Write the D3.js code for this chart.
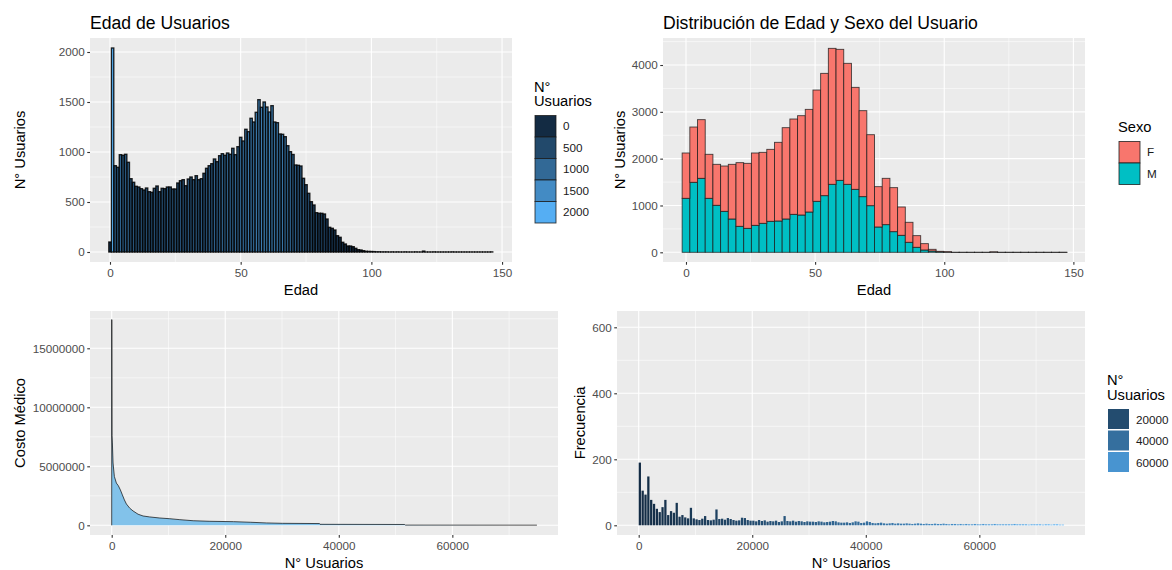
<!DOCTYPE html>
<html>
<head>
<meta charset="utf-8">
<script src="https://cdn.jsdelivr.net/npm/d3@7"></script>
<style>
  body { margin: 0; background: #fff; }
  svg { display: block; }
  text { font-family: "Liberation Sans", Arial, sans-serif; }
</style>
</head>
<body>
<svg id="chart" width="1172" height="570"></svg>
<script>
// ---- data ----

// panel 1: users per age (0..146)
const edades = d3.range(0, 147);
const usuariosPorEdad = [
  100, 2040, 863, 847, 973, 967, 977, 897, 733, 697,
  657, 650, 633, 620, 640, 603, 597, 637, 660, 603,
  637, 633, 650, 650, 630, 630, 690, 713, 723, 663,
  730, 750, 723, 763, 723, 733, 787, 837, 863, 883,
  930, 903, 963, 983, 967, 990, 977, 1037, 973, 1053,
  1147, 1110, 1227, 1203, 1337, 1300, 1397, 1523, 1447, 1500,
  1450, 1400, 1463, 1300, 1293, 1180, 1177, 1153, 1063, 1003,
  975, 870, 867, 860, 737, 673, 587, 503, 470, 393,
  387, 387, 380, 330, 247, 237, 220, 163, 147, 97,
  80, 60, 60, 53, 37, 23, 20, 13, 7, 6,
  5, 4, 2, 2, 1, 1, 1, 0, 1, 0,
  1, 0, 0, 1, 0, 0, 0, 1, 0, 0,
  9, 0, 0, 0, 1, 0, 0, 0, 0, 0,
  0, 1, 0, 0, 0, 0, 0, 0, 0, 0,
  0, 0, 0, 0, 0, 0, 1
];
const legendaEdad = [0, 500, 1000, 1500, 2000];

// panel 2: histogram (50 bins) split by sex
const binAncho = 146 / 49;
const sexos = ["F", "M"];
const histM = [
  1153, 1495, 1580, 1153, 1004, 875, 712, 555, 512, 576,
  619, 662, 669, 712, 811, 797, 861, 1089, 1210, 1452,
  1537, 1452, 1345, 1189, 996, 541, 591, 441, 363, 214,
  107, 50, 28, 7, 4, 0, 0, 0, 0, 0,
  4, 0, 0, 0, 0, 0, 0, 0, 0, 0
];
const histF = [
  968, 1181, 1253, 940, 875, 968, 1167, 1360, 1388, 1545,
  1516, 1537, 1680, 1950, 2036, 2121, 2192, 2377, 2612, 2904,
  2798, 2584, 2178, 1836, 1516, 861, 989, 940, 605, 427,
  249, 135, 36, 14, 10, 0, 0, 0, 0, 0,
  6, 0, 0, 0, 0, 0, 0, 0, 0, 1
];

// panel 3: medical cost, users sorted by cost
const costoUsuarios = [0, 30, 60, 120, 240, 470, 824, 1176, 1530, 1880, 2240, 2590, 3180, 3760, 4650,
  5530, 6700, 8470, 10230, 12000, 14350, 17290, 21450, 24400, 27300, 30100, 36600, 36700, 51600, 51700, 74900];
const costoValores = [17430000, 17430000, 7600000, 6980000, 5280000, 4140000, 3580000, 3350000, 3000000,
  2580000, 2150000, 1810000, 1450000, 1220000, 940000, 790000, 710000, 620000, 560000, 480000, 390000,
  340000, 310000, 260000, 200000, 170000, 150000, 85000, 70000, 20000, 15000];

// panel 4: frequency per block of 500 users
const frecPaso = 500;
const frecuencias = [
  190, 105, 93, 148, 77, 65, 50, 40, 55, 77,
  31, 43, 38, 68, 26, 31, 24, 21, 53, 21,
  18, 16, 20, 28, 16, 15, 17, 48, 19, 20,
  17, 22, 19, 16, 14, 15, 23, 22, 16, 14,
  14, 12, 16, 13, 15, 11, 13, 12, 14, 10,
  12, 28, 13, 12, 14, 11, 13, 12, 10, 12,
  11, 11, 10, 12, 11, 9, 10, 11, 13, 12,
  9, 8, 8, 9, 7, 9, 12, 11, 7, 8,
  12, 10, 7, 6, 7, 8, 6, 5, 6, 7,
  5, 6, 5, 5, 6, 5, 4, 5, 6, 5,
  4, 5, 4, 4, 5, 4, 4, 5, 4, 3,
  4, 4, 3, 4, 3, 4, 3, 3, 4, 3,
  3, 4, 3, 3, 3, 4, 3, 3, 3, 3,
  3, 3, 4, 3, 3, 3, 3, 2, 3, 3,
  3, 3, 2, 3, 3, 2, 3, 3, 2, 2
];
const legendaUsuarios = [20000, 40000, 60000];

// ---- style ----
const svg = d3.select("#chart");
const gradiente = d3.interpolateLab("#132B43", "#56B1F7");
const colSexo = { F: "#F8766D", M: "#00BFC4" };
const fTitulo = 17.6, fEje = 14.7, fTick = 11.7;

// draws grey panel, grid, ticks and labels
function panel(p) {
  const g = svg.append("g");
  const [x0, x1] = p.x.range(), [y0, y1] = p.y.range();
  g.append("rect")
    .attr("x", x0).attr("y", y1)
    .attr("width", x1 - x0).attr("height", y0 - y1)
    .attr("fill", "#EBEBEB");

  // minor grid
  g.selectAll(".mx").data(p.xMinor).enter().append("line")
    .attr("x1", d => p.x(d)).attr("x2", d => p.x(d)).attr("y1", y0).attr("y2", y1)
    .attr("stroke", "#fff").attr("stroke-width", 0.55);
  g.selectAll(".my").data(p.yMinor).enter().append("line")
    .attr("y1", d => p.y(d)).attr("y2", d => p.y(d)).attr("x1", x0).attr("x2", x1)
    .attr("stroke", "#fff").attr("stroke-width", 0.55);
  // major grid
  g.selectAll(".gx").data(p.xTicks).enter().append("line")
    .attr("x1", d => p.x(d)).attr("x2", d => p.x(d)).attr("y1", y0).attr("y2", y1)
    .attr("stroke", "#fff").attr("stroke-width", 1.1);
  g.selectAll(".gy").data(p.yTicks).enter().append("line")
    .attr("y1", d => p.y(d)).attr("y2", d => p.y(d)).attr("x1", x0).attr("x2", x1)
    .attr("stroke", "#fff").attr("stroke-width", 1.1);

  // axes with d3 axis generators, styled like ggplot
  const ax = g.append("g").attr("transform", `translate(0,${y0})`)
    .call(d3.axisBottom(p.x).tickValues(p.xTicks).tickSize(2.75).tickPadding(3.5).tickFormat(d3.format("d")));
  const ay = g.append("g").attr("transform", `translate(${x0},0)`)
    .call(d3.axisLeft(p.y).tickValues(p.yTicks).tickSize(2.75).tickPadding(2.5).tickFormat(d3.format("d")));
  [ax, ay].forEach(a => {
    a.select(".domain").remove();
    a.selectAll("line").attr("stroke", "#333333").attr("stroke-width", 1.1);
    a.selectAll("text").attr("fill", "#4D4D4D").attr("font-size", fTick).attr("font-family", null);
  });

  if (p.titulo) {
    svg.append("text").attr("x", x0).attr("y", p.tituloY)
      .attr("font-size", fTitulo).attr("fill", "#000").text(p.titulo);
  }
  svg.append("text").attr("x", (x0 + x1) / 2).attr("y", y0 + 33)
    .attr("text-anchor", "middle").attr("font-size", fEje).text(p.xLab);
  svg.append("text")
    .attr("transform", `translate(${p.yLabX},${(y0 + y1) / 2}) rotate(-90)`)
    .attr("text-anchor", "middle").attr("font-size", fEje).text(p.yLab);
}

// legend with square keys
function leyenda(lx, ly, titulo, items, stroke) {
  const g = svg.append("g");
  titulo.forEach((t, i) => g.append("text").attr("x", lx).attr("y", ly + i * 14.5)
    .attr("font-size", fEje).text(t));
  const top = ly + (titulo.length - 1) * 14.5 + 9.5;
  const k = 21.5;
  items.forEach((it, i) => {
    g.append("rect").attr("x", lx + 1).attr("y", top + i * k)
      .attr("width", 21).attr("height", stroke ? k : k - 1.5)
      .attr("fill", it.color)
      .attr("stroke", stroke ? "#1a1a1a" : "none").attr("stroke-opacity", 0.85).attr("stroke-width", 0.9);
    g.append("text").attr("x", lx + 29).attr("y", top + i * k + k / 2 + 4)
      .attr("font-size", fTick).attr("fill", "#1a1a1a").text(it.label);
  });
}

// zero-height rects are not painted, keep a hairline so the outline shows
const alto = (y, v) => Math.max(0.01, y(0) - y(v));

// ---- panel 1: Edad de Usuarios ----
const x1 = d3.scaleLinear().domain([-7.65, 153.8]).range([90, 512]);
const y1 = d3.scaleLinear().domain([-100, 2140]).range([262, 38]);
panel({ x: x1, y: y1, xTicks: [0, 50, 100, 150], xMinor: [25, 75, 125],
  yTicks: [0, 500, 1000, 1500, 2000], yMinor: [250, 750, 1250, 1750],
  titulo: "Edad de Usuarios", tituloY: 29, xLab: "Edad", yLab: "N° Usuarios", yLabX: 25 });
const col1 = d3.scaleSequential(gradiente).domain([0, d3.max(usuariosPorEdad)]);
const bw1 = x1(0.9) - x1(0);
svg.append("g").selectAll("rect").data(edades).enter().append("rect")
  .attr("x", d => x1(d) - bw1 / 2).attr("width", bw1)
  .attr("y", d => y1(0) - alto(y1, usuariosPorEdad[d]))
  .attr("height", d => alto(y1, usuariosPorEdad[d]))
  .attr("fill", d => col1(usuariosPorEdad[d]))
  .attr("stroke", "#000").attr("stroke-opacity", 0.85).attr("stroke-width", 1.35);
leyenda(534, 91.5, ["N°", "Usuarios"], legendaEdad.map(v => ({ label: v, color: col1(v) })), true);

// ---- panel 2: Distribución de Edad y Sexo ----
const x2 = d3.scaleLinear().domain([-8.9, 154.5]).range([663, 1085]);
const y2 = d3.scaleLinear().domain([-207, 4577]).range([262, 38]);
panel({ x: x2, y: y2, xTicks: [0, 50, 100, 150], xMinor: [25, 75, 125],
  yTicks: [0, 1000, 2000, 3000, 4000], yMinor: [500, 1500, 2500, 3500, 4500],
  titulo: "Distribución de Edad y Sexo del Usuario", tituloY: 28.5, xLab: "Edad", yLab: "N° Usuarios", yLabX: 625 });
const tabla = histM.map((m, i) => ({ centro: i * binAncho, M: m, F: histF[i] }));
const pila = d3.stack().keys(["M", "F"])(tabla);
svg.append("g").selectAll("g").data(pila).enter().append("g")
  .attr("fill", s => colSexo[s.key])
  .selectAll("rect").data(s => s).enter().append("rect")
  .attr("x", d => x2(d.data.centro - binAncho / 2))
  .attr("width", x2(binAncho) - x2(0))
  .attr("y", d => y2(d[1]))
  .attr("height", d => Math.max(0.01, y2(d[0]) - y2(d[1])))
  .attr("stroke", "#1a1a1a").attr("stroke-opacity", 0.8).attr("stroke-width", 0.9);
leyenda(1118, 132, ["Sexo"], sexos.map(s => ({ label: s, color: colSexo[s] })), true);

// ---- panel 3: Costo Médico ----
const x3 = d3.scaleLinear().domain([-3822, 78610]).range([90, 558]);
const y3 = d3.scaleLinear().domain([-820000, 18160000]).range([535, 311]);
panel({ x: x3, y: y3, xTicks: [0, 20000, 40000, 60000], xMinor: [10000, 30000, 50000, 70000],
  yTicks: [0, 5000000, 10000000, 15000000], yMinor: [2500000, 7500000, 12500000, 17500000],
  xLab: "N° Usuarios", yLab: "Costo Médico", yLabX: 25 });
const puntos = costoUsuarios.map((u, i) => [u, costoValores[i]]);
svg.append("path").datum(puntos)
  .attr("d", d3.area().x(d => x3(d[0])).y0(y3(0)).y1(d => y3(d[1])))
  .attr("fill", "#82C2EA");
svg.append("path").datum([[0, 0], ...puntos])
  .attr("d", d3.line().x(d => x3(d[0])).y(d => y3(d[1])))
  .attr("fill", "none").attr("stroke", "#000").attr("stroke-opacity", 0.75).attr("stroke-width", 0.9);

// ---- panel 4: Frecuencia ----
const x4 = d3.scaleLinear().domain([-3822, 78610]).range([617, 1085]);
const y4 = d3.scaleLinear().domain([-29.4, 649.4]).range([535, 311]);
panel({ x: x4, y: y4, xTicks: [0, 20000, 40000, 60000], xMinor: [10000, 30000, 50000, 70000],
  yTicks: [0, 200, 400, 600], yMinor: [100, 300, 500],
  xLab: "N° Usuarios", yLab: "Frecuencia", yLabX: 585 });
const col4 = d3.scaleSequential(gradiente).domain([0, 75000]);
const bw4 = x4(frecPaso * 0.8) - x4(0);
svg.append("g").selectAll("rect").data(frecuencias).enter().append("rect")
  .attr("x", (d, i) => x4(i * frecPaso))
  .attr("width", bw4)
  .attr("y", d => y4(d))
  .attr("height", d => y4(0) - y4(d))
  .attr("fill", (d, i) => col4(i * frecPaso + frecPaso / 2));
leyenda(1107, 385, ["N°", "Usuarios"], legendaUsuarios.map(v => ({ label: v, color: col4(v) })), false);
</script>
</body>
</html>
